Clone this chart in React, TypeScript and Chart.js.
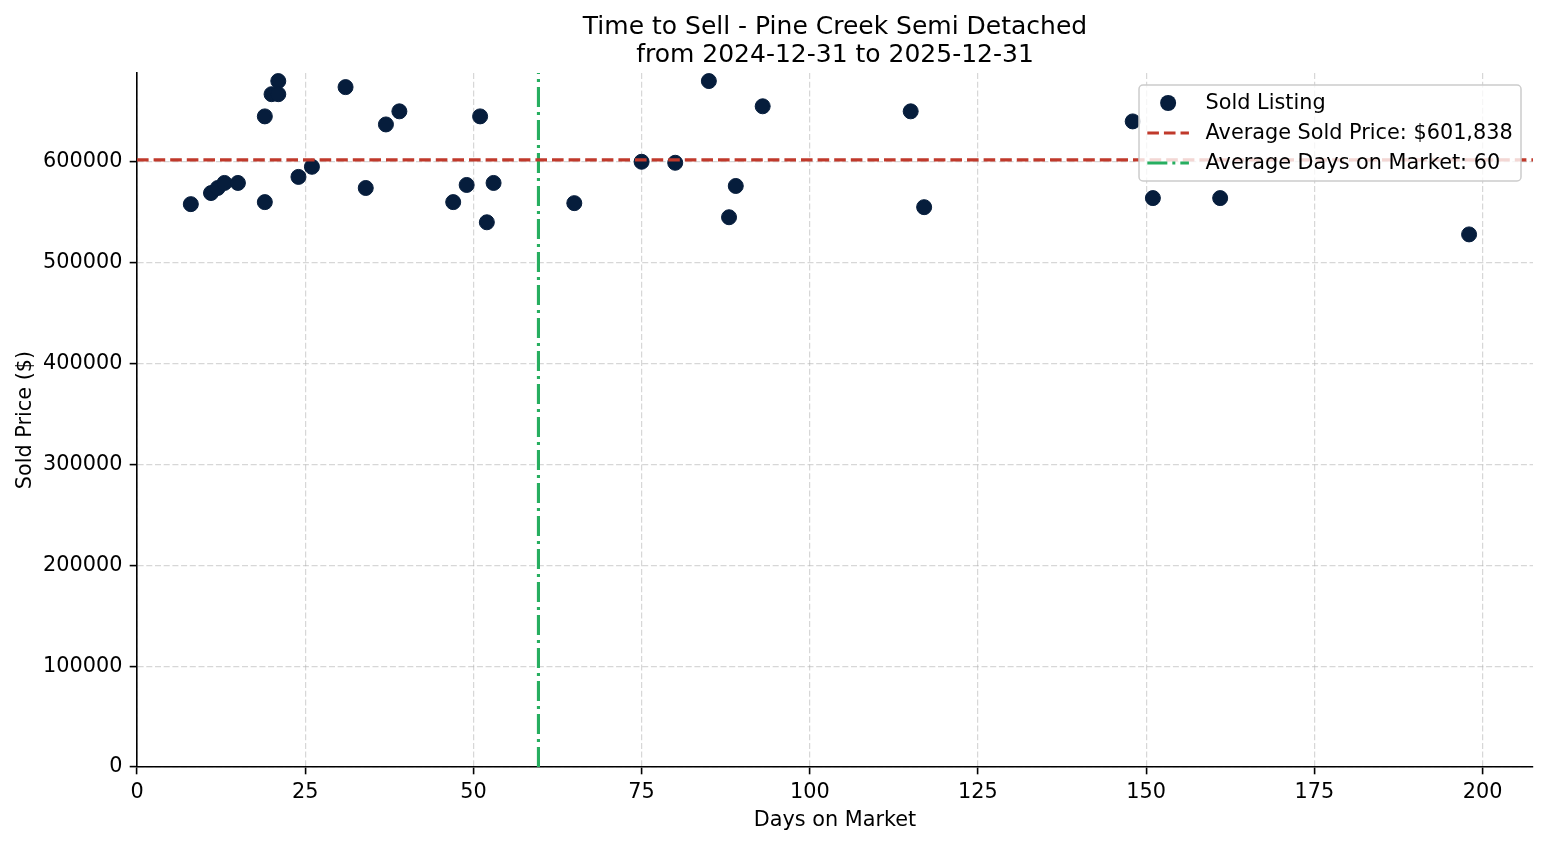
import React, { useEffect, useRef } from "react";
import { Chart, registerables } from "chart.js";

Chart.register(...registerables);

// ---------- data ----------
const titleLines = ["Time to Sell - Pine Creek Semi Detached", "from 2024-12-31 to 2025-12-31"];
const xAxisLabel = "Days on Market";
const yAxisLabel = "Sold Price ($)";

const daysOnMarket = [8, 11, 12, 13, 15, 19, 19, 20, 21, 21, 24, 26, 31, 34, 37, 39, 47, 49, 51, 52, 53, 65, 75, 80, 85, 88, 89, 93, 115, 117, 148, 151, 161, 198];
const soldPrices = [558000, 569000, 574000, 579000, 579000, 645000, 560000, 667000, 680000, 667000, 585000, 595000, 674000, 574000, 637000, 650000, 560000, 577000, 645000, 540000, 579000, 559000, 600000, 599000, 680000, 545000, 576000, 655000, 650000, 555000, 640000, 564000, 564000, 528000];

const avgSoldPrice = 601838;
const avgDaysOnMarket = 59.67;

const xTickValues = [0, 25, 50, 75, 100, 125, 150, 175, 200];
const yTickValues = [0, 100000, 200000, 300000, 400000, 500000, 600000];
const xRange = [0, 207.5];
const yRange = [0, 688000];

const legendLabels = ["Sold Listing", "Average Sold Price: $601,838", "Average Days on Market: 60"];

// ---------- styles ----------
const FONT = '"DejaVu Sans", sans-serif';
const BASE = 20.8;
const NAVY = "#061d3c";
const RED = "#c0392b";
const GREEN = "#27ae60";
const RED_DASH = [11.6, 5];
const GREEN_DASH = [20, 5, 3, 5];

const titlePlugin = {
  id: "mplTitle",
  afterDraw(chart: any) {
    const { ctx, chartArea } = chart;
    const cx = (chartArea.left + chartArea.right) / 2;
    ctx.save();
    ctx.fillStyle = "#000";
    ctx.font = `25px ${FONT}`;
    ctx.textAlign = "center";
    ctx.textBaseline = "alphabetic";
    ctx.fillText(titleLines[0], cx, 34);
    ctx.fillText(titleLines[1], cx, 62);
    ctx.restore();
  },
};

const legendPlugin = {
  id: "mplLegend",
  afterDraw(chart: any) {
    const { ctx, chartArea } = chart;
    ctx.save();
    ctx.font = `${BASE}px ${FONT}`;
    const textW = Math.max(...legendLabels.map((l) => ctx.measureText(l).width));
    const pad = 0.4 * BASE;
    const handleLen = 2 * BASE;
    const handlePad = 0.8 * BASE;
    const w = pad + handleLen + handlePad + textW + pad;
    const h = 96;
    const right = chartArea.right - 12;
    const top = chartArea.top + 12;
    const left = right - w;
    const r = 4;
    ctx.beginPath();
    ctx.moveTo(left + r, top);
    ctx.lineTo(left + w - r, top);
    ctx.arcTo(left + w, top, left + w, top + r, r);
    ctx.lineTo(left + w, top + h - r);
    ctx.arcTo(left + w, top + h, left + w - r, top + h, r);
    ctx.lineTo(left + r, top + h);
    ctx.arcTo(left, top + h, left, top + h - r, r);
    ctx.lineTo(left, top + r);
    ctx.arcTo(left, top, left + r, top, r);
    ctx.closePath();
    ctx.fillStyle = "rgba(255,255,255,0.8)";
    ctx.fill();
    ctx.strokeStyle = "#cccccc";
    ctx.lineWidth = 1.5;
    ctx.stroke();

    const rows = [top + 18, top + 48, top + 78];
    const hx0 = left + pad;
    const hx1 = hx0 + handleLen;
    // marker
    ctx.beginPath();
    ctx.arc((hx0 + hx1) / 2, rows[0], 8, 0, Math.PI * 2);
    ctx.fillStyle = NAVY;
    ctx.fill();
    // red dashed
    ctx.lineCap = "butt";
    ctx.lineWidth = 3.1;
    ctx.strokeStyle = RED;
    ctx.setLineDash(RED_DASH);
    ctx.beginPath();
    ctx.moveTo(hx0, rows[1]);
    ctx.lineTo(hx1, rows[1]);
    ctx.stroke();
    // green dash-dot
    ctx.strokeStyle = GREEN;
    ctx.setLineDash(GREEN_DASH);
    ctx.beginPath();
    ctx.moveTo(hx0, rows[2]);
    ctx.lineTo(hx1, rows[2]);
    ctx.stroke();
    ctx.setLineDash([]);

    ctx.fillStyle = "#000";
    ctx.textAlign = "left";
    ctx.textBaseline = "middle";
    legendLabels.forEach((l, i) => ctx.fillText(l, hx1 + handlePad, rows[i] + 1));
    ctx.restore();
  },
};

export default function App() {
  const ref = useRef<HTMLCanvasElement | null>(null);

  useEffect(() => {
    if (!ref.current) return;
    Chart.defaults.font.family = FONT;
    const points = daysOnMarket.map((d, i) => ({ x: d, y: soldPrices[i] }));

    const axisCommon = (size: number, isX: boolean) => ({
      type: "linear" as const,
      grid: {
        color: "rgba(176,176,176,0.5)",
        lineWidth: 1.2,
        drawTicks: true,
        tickLength: 7.3,
        tickColor: "#000",
        tickWidth: 1.6,
      },
      border: { display: true, color: "#000", width: 1.6, dash: [6, 2.7] },
      ticks: {
        color: "#000",
        font: { size: BASE, family: FONT },
        padding: isX ? 5.5 : 7.3,
        maxRotation: 0,
        autoSkip: false,
        callback: (v: any) => String(v),
      },
      afterFit: (s: any) => {
        if (isX) s.height = size;
        else s.width = size;
      },
    });

    const chart = new Chart(ref.current, {
      type: "scatter",
      data: {
        datasets: [
          {
            type: "line",
            label: legendLabels[1],
            data: [
              { x: xRange[0], y: avgSoldPrice },
              { x: xRange[1], y: avgSoldPrice },
            ],
            borderColor: RED,
            borderWidth: 3.1,
            borderDash: RED_DASH,
            pointRadius: 0,
            showLine: true,
            fill: false,
            order: 0,
          } as any,
          {
            type: "line",
            label: legendLabels[2],
            data: [
              { x: avgDaysOnMarket, y: yRange[0] },
              { x: avgDaysOnMarket, y: yRange[1] },
            ],
            borderColor: GREEN,
            borderWidth: 3.1,
            borderDash: GREEN_DASH,
            pointRadius: 0,
            showLine: true,
            fill: false,
            order: 0,
          } as any,
          {
            type: "scatter",
            label: legendLabels[0],
            data: points,
            backgroundColor: NAVY,
            borderColor: NAVY,
            borderWidth: 1,
            pointRadius: 7.5,
            order: 1,
          } as any,
        ],
      },
      options: {
        responsive: false,
        animation: false,
        events: [],
        layout: { padding: { top: 73, right: 14, left: 0, bottom: 0 } },
        plugins: {
          legend: { display: false },
          tooltip: { enabled: false },
          title: { display: false },
        },
        scales: {
          x: {
            ...axisCommon(78, true),
            position: "bottom",
            min: xRange[0],
            max: xRange[1],
            afterBuildTicks: (s: any) => {
              s.ticks = xTickValues.map((v) => ({ value: v }));
            },
            title: {
              display: true,
              text: xAxisLabel,
              color: "#000",
              font: { size: BASE, family: FONT },
              padding: { top: 0, bottom: 11.7 },
            },
          },
          y: {
            ...axisCommon(137, false),
            position: "left",
            min: yRange[0],
            max: yRange[1],
            afterBuildTicks: (s: any) => {
              s.ticks = yTickValues.map((v) => ({ value: v }));
            },
            title: {
              display: true,
              text: yAxisLabel,
              color: "#000",
              font: { size: BASE, family: FONT },
              padding: { top: 12.7, bottom: 0 },
            },
          },
        } as any,
      },
      plugins: [titlePlugin, legendPlugin],
    });
    return () => chart.destroy();
  }, []);

  return (
    <div style={{ position: "absolute", left: 0, top: 0, width: 1547, height: 845, background: "#fff" }}>
      <canvas ref={ref} width={1547} height={845} style={{ display: "block" }} />
    </div>
  );
}
